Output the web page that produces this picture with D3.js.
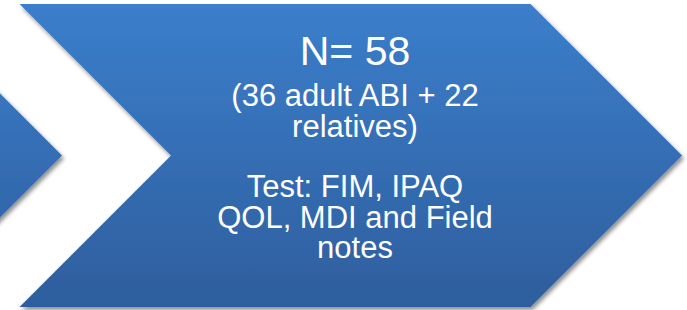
<!DOCTYPE html>
<html>
<head>
<meta charset="utf-8">
<script src="https://cdn.jsdelivr.net/npm/d3@7"></script>
<style>
  html, body { margin: 0; padding: 0; background: #ffffff; }
  svg { display: block; }
</style>
</head>
<body>
<svg id="chart" width="687" height="310"></svg>
<script>
// ---- content ----
const steps = ["previous", "current"];
const titleLines = ["N= 58"];
const subtitleLines = ["(36 adult ABI + 22", "relatives)"];
const testLines = ["Test: FIM, IPAQ", "QOL, MDI and Field", "notes"];

// ---- layout ----
const W = 687, H = 310;
const svg = d3.select("#chart");

const tipX = d3.scaleLinear().domain([0, 1]).range([62, 682]);
const yS = d3.scaleLinear().domain([-1, 1]).range([4, 307]);
const half = (yS(1) - yS(-1)) / 2;      // depth of the point
const bodyLen = 511;                    // length of rectangle part (left edge to shoulder)

const defs = svg.append("defs");
const grad = defs.append("linearGradient")
  .attr("id", "blueGrad")
  .attr("gradientUnits", "userSpaceOnUse")
  .attr("x1", 0).attr("y1", yS(-1)).attr("x2", 0).attr("y2", yS(1));
grad.append("stop").attr("offset", "0%").attr("stop-color", "#3b7ecb");
grad.append("stop").attr("offset", "100%").attr("stop-color", "#2e5e9d");

const f = defs.append("filter").attr("id", "shadow")
  .attr("x", "-10%").attr("y", "-10%").attr("width", "120%").attr("height", "130%");
f.append("feDropShadow").attr("dx", 2).attr("dy", 3).attr("stdDeviation", 2.2)
  .attr("flood-color", "#000").attr("flood-opacity", 0.45);

function chevron(tip) {
  const right = tip - half, left = right - bodyLen, notch = left + half;
  const top = yS(-1), mid = yS(0), bot = yS(1);
  return [[left, top], [right, top], [tip, mid], [right, bot], [left, bot], [notch, mid]];
}
const line = d3.line();

svg.selectAll("path.chev")
  .data(steps)
  .join("path")
  .attr("class", "chev")
  .attr("d", (d, i) => line(chevron(tipX(i))) + "Z")
  .attr("fill", "url(#blueGrad)")
  .attr("filter", "url(#shadow)");

// ---- text ----
const cx = 355;
const txt = svg.append("g")
  .attr("font-family", "'Liberation Sans', Arial, sans-serif")
  .attr("fill", "#ffffff")
  .attr("text-anchor", "middle");

txt.selectAll("text.title").data(titleLines).join("text")
  .attr("class", "title")
  .attr("x", cx).attr("y", (d, i) => 65 + i * 41)
  .attr("font-size", 41)
  .text(d => d);

txt.selectAll("text.sub").data(subtitleLines).join("text")
  .attr("class", "sub")
  .attr("x", cx).attr("y", (d, i) => 106 + i * 30.5)
  .attr("font-size", 31)
  .text(d => d);

txt.selectAll("text.test").data(testLines).join("text")
  .attr("class", "test")
  .attr("x", cx).attr("y", (d, i) => 197 + i * 30.5)
  .attr("font-size", 31)
  .text(d => d);
</script>
</body>
</html>
